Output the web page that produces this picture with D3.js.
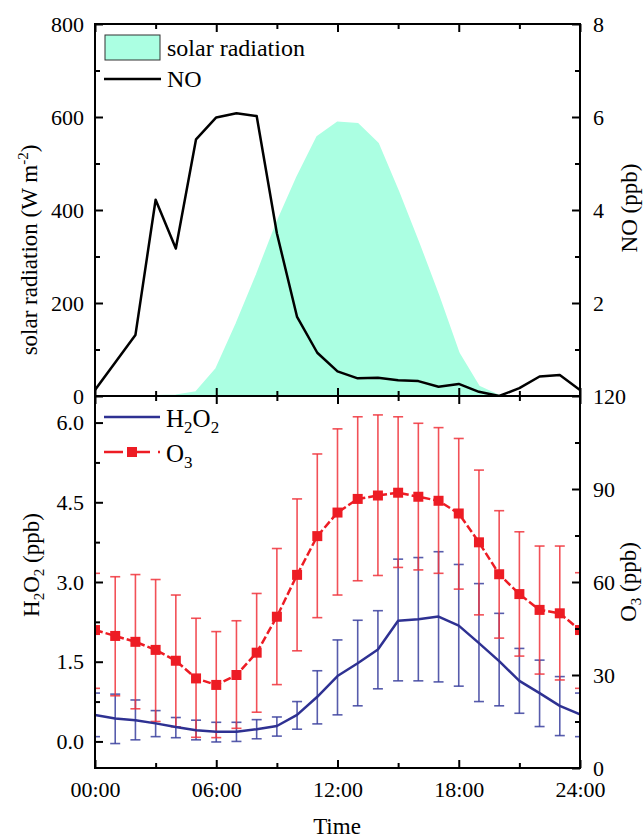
<!DOCTYPE html>
<html>
<head>
<meta charset="utf-8">
<script src="https://cdn.jsdelivr.net/npm/d3@7/dist/d3.min.js"></script>
<style>
body { margin: 0; background: #fff; }
svg text { font-family: "Liberation Serif", "DejaVu Serif", serif !important; fill: #000; }
</style>
</head>
<body>
<svg id="chart" width="644" height="838"></svg>
<script>
// hour of day
const hours = [0,1,2,3,4,5,6,7,8,9,10,11,12,13,14,15,16,17,18,19,20,21,22,23,24];

// top panel
const solar = [0,0,0,0,1,8,58,155,260,372,470,557,588,585,543,440,330,215,92,20,0,0,0,0,0];
const no = [0.13,0.72,1.31,4.22,3.17,5.52,5.99,6.08,6.02,3.5,1.7,0.93,0.53,0.38,0.39,0.34,0.32,0.2,0.26,0.09,0.0,0.17,0.42,0.45,0.13];

// bottom panel
const o3 = [44.5,42.6,40.7,38.1,34.6,28.9,26.8,30.0,37.2,48.8,62.3,74.8,82.4,86.8,87.9,88.8,87.5,86.2,82.1,72.8,62.5,56.1,51.0,49.9,44.5];
const o3Hi = [62.8,61.7,62.4,60.8,55.8,48.3,44.0,47.5,56.3,70.8,86.8,101.3,109.4,113.3,113.9,113.3,111.2,109.8,106.3,96.1,83.0,76.2,71.6,71.6,63.0];
const o3Lo = [25.7,23.3,19.1,15.0,13.3,9.9,9.8,12.8,18.0,26.9,37.8,48.5,55.8,60.4,62.1,64.7,63.9,62.8,57.7,49.4,41.9,36.1,30.3,28.4,25.7];
const h2o2 = [0.50,0.43,0.40,0.34,0.27,0.21,0.18,0.18,0.23,0.29,0.50,0.84,1.23,1.47,1.73,2.27,2.30,2.35,2.18,1.85,1.51,1.14,0.91,0.67,0.51];
const h2o2Hi = [0.91,0.89,0.78,0.58,0.45,0.40,0.36,0.36,0.41,0.46,0.75,1.33,1.91,2.28,2.46,3.43,3.46,3.57,3.33,2.97,2.41,1.75,1.53,1.22,0.91];
const h2o2Lo = [0.09,-0.04,0.03,0.09,0.07,0.03,-0.01,0.0,0.05,0.10,0.23,0.33,0.50,0.67,0.99,1.14,1.14,1.12,1.04,0.75,0.67,0.53,0.28,0.11,0.09];

// ticks
const timeTicks = [0,6,12,18,24];
const timeLabels = ["00:00","06:00","12:00","18:00","24:00"];
const timeMinor = [3,9,15,21];
const solarTicks = [0,200,400,600,800], solarMinor = [100,300,500,700];
const noTicks = [2,4,6,8], noMinor = [1,3,5,7];
const h2o2Ticks = [0,1.5,3,4.5,6], h2o2Minor = [0.75,2.25,3.75,5.25];
const o3Ticks = [0,30,60,90,120], o3Minor = [15,45,75,105];

const L = 95, R = 580, T1 = 24, B1 = 396, T2 = 396, B2 = 768;
const svg = d3.select("#chart");

const x = d3.scaleLinear().domain([0,24]).range([L,R]);
const ySolar = d3.scaleLinear().domain([0,800]).range([B1,T1]);
const yNO = d3.scaleLinear().domain([0,8]).range([B1,T1]);
const yH = d3.scaleLinear().domain([-0.5,6.5]).range([B2,T2]);
const yO3 = d3.scaleLinear().domain([0,120]).range([B2,T2]);

const teal = "#abffe2", red = "#ed1c24", blue = "#2e3192";

const defs = svg.append("defs");
defs.append("clipPath").attr("id","c1").append("rect").attr("x",L).attr("y",T1).attr("width",R-L).attr("height",B1-T1);
defs.append("clipPath").attr("id","c2").append("rect").attr("x",L).attr("y",T2).attr("width",R-L).attr("height",B2-T2);

// ---- top panel
const g1 = svg.append("g").attr("clip-path","url(#c1)");
g1.append("path")
  .attr("d", d3.area().x((d,i)=>x(hours[i])).y0(B1).y1(d=>ySolar(d))(solar))
  .attr("fill", teal).attr("stroke", teal).attr("stroke-width", 2);
g1.append("path")
  .attr("d", d3.line().x((d,i)=>x(hours[i])).y(d=>yNO(d))(no))
  .attr("fill","none").attr("stroke","#000").attr("stroke-width",2.5).attr("stroke-linejoin","round");

// ---- bottom panel
const g2 = svg.append("g").attr("clip-path","url(#c2)");
function errBars(g, vals, lo, hi, y, col) {
  const eb = g.append("g").attr("stroke", col).attr("stroke-width", 1.6).attr("stroke-opacity", 0.85);
  vals.forEach((v,i) => {
    const cx = x(hours[i]);
    eb.append("line").attr("x1",cx).attr("x2",cx).attr("y1",y(lo[i])).attr("y2",y(hi[i]));
    [lo[i],hi[i]].forEach(e => eb.append("line").attr("x1",cx-5).attr("x2",cx+5).attr("y1",y(e)).attr("y2",y(e)));
  });
}
errBars(g2, h2o2, h2o2Lo, h2o2Hi, yH, "#3a3f9e");
errBars(g2, o3, o3Lo, o3Hi, yO3, "#f0323b");
g2.append("path")
  .attr("d", d3.line().x((d,i)=>x(hours[i])).y(d=>yH(d))(h2o2))
  .attr("fill","none").attr("stroke",blue).attr("stroke-width",2.5).attr("stroke-linejoin","round");
g2.append("path")
  .attr("d", d3.line().x((d,i)=>x(hours[i])).y(d=>yO3(d))(o3))
  .attr("fill","none").attr("stroke",red).attr("stroke-width",2.5).attr("stroke-dasharray","8,3");
g2.selectAll("rect.m").data(o3).join("rect")
  .attr("x",(d,i)=>x(hours[i])-5).attr("y",d=>yO3(d)-5).attr("width",10).attr("height",10)
  .attr("fill",red);

// ---- axes
function ax(axisFn, scale, vals, size, pad, fmt, tx, ty) {
  const a = axisFn(scale).tickValues(vals).tickSize(-size).tickPadding(pad);
  a.tickFormat(fmt || "");
  const g = svg.append("g").attr("transform",`translate(${tx},${ty})`).call(a);
  g.attr("font-family", null).attr("font-size", null);
  g.select(".domain").remove();
  g.selectAll("line").attr("stroke","#000").attr("stroke-width",2);
  g.selectAll("text").style("font-size","22px");
  return g;
}
// top panel
ax(d3.axisLeft, ySolar, solarTicks, 8, 11, d=>d, L, 0);
ax(d3.axisLeft, ySolar, solarMinor, 5, 0, null, L, 0);
ax(d3.axisRight, yNO, noTicks, 8, 13, d=>d, R, 0);
ax(d3.axisRight, yNO, noMinor, 5, 0, null, R, 0);
ax(d3.axisTop, x, timeTicks, 8, 0, null, 0, T1);
ax(d3.axisTop, x, timeMinor, 5, 0, null, 0, T1);
ax(d3.axisBottom, x, timeTicks, 8, 0, null, 0, B1);
ax(d3.axisBottom, x, timeMinor, 5, 0, null, 0, B1);
// bottom panel
ax(d3.axisLeft, yH, h2o2Ticks, 8, 11, d3.format(".1f"), L, 0);
ax(d3.axisLeft, yH, h2o2Minor, 5, 0, null, L, 0);
ax(d3.axisRight, yO3, o3Ticks, 8, 13, d=>d, R, 0);
ax(d3.axisRight, yO3, o3Minor, 5, 0, null, R, 0);
ax(d3.axisBottom, x, timeTicks, 8, 13, (d,i)=>timeLabels[i], 0, B2);
ax(d3.axisBottom, x, timeMinor, 5, 0, null, 0, B2);
ax(d3.axisTop, x, timeTicks, 8, 0, null, 0, T2);
ax(d3.axisTop, x, timeMinor, 5, 0, null, 0, T2);

// frames
svg.append("rect").attr("x",L).attr("y",T1).attr("width",R-L).attr("height",B2-T1)
  .attr("fill","none").attr("stroke","#000").attr("stroke-width",2);
svg.append("line").attr("x1",L).attr("x2",R).attr("y1",B1).attr("y2",B1)
  .attr("stroke","#000").attr("stroke-width",2);

// ---- titles
function vtitle(xp, yp, parts) {
  const t = svg.append("text").attr("transform",`translate(${xp},${yp}) rotate(-90)`)
    .attr("text-anchor","middle").style("font-size","23px");
  parts.forEach(p => {
    const s = t.append("tspan").text(p[0]);
    if (p[1] === "sub") s.style("font-size","15px").attr("dy",5);
    else if (p[1] === "sup") s.style("font-size","15px").attr("dy",-9);
    else if (p[1] === "back") s.attr("dy", p[2]);
  });
}
vtitle(37, 250, [["solar radiation (W m"],["-2","sup"],[")","back",9]]);
vtitle(637, 208, [["NO (ppb)"]]);
vtitle(39, 565, [["H"],["2","sub"],["O","back",-5],["2","sub"],[" (ppb)","back",-5]]);
vtitle(636, 582, [["O"],["3","sub"],[" (ppb)","back",-5]]);
svg.append("text").attr("x",337).attr("y",834).attr("text-anchor","middle").style("font-size","23px").text("Time");

// ---- legends
svg.append("rect").attr("x",105).attr("y",35).attr("width",55).attr("height",25)
  .attr("fill",teal).attr("stroke","#333").attr("stroke-width",1);
svg.append("text").attr("x",167).attr("y",56).style("font-size","24px").text("solar radiation");
svg.append("line").attr("x1",104).attr("x2",161).attr("y1",79).attr("y2",79)
  .attr("stroke","#000").attr("stroke-width",2.5);
svg.append("text").attr("x",167).attr("y",87).style("font-size","24px").text("NO");

svg.append("line").attr("x1",104).attr("x2",160).attr("y1",417).attr("y2",417)
  .attr("stroke",blue).attr("stroke-width",2.5);
const lh = svg.append("text").attr("x",166).attr("y",427).style("font-size","25px");
lh.append("tspan").text("H");
lh.append("tspan").text("2").style("font-size","17px").attr("dy",6);
lh.append("tspan").text("O").attr("dy",-6);
lh.append("tspan").text("2").style("font-size","17px").attr("dy",6);
svg.append("line").attr("x1",104).attr("x2",160).attr("y1",452).attr("y2",452)
  .attr("stroke",red).attr("stroke-width",2.5).attr("stroke-dasharray","19,8");
svg.append("rect").attr("x",127).attr("y",447).attr("width",10).attr("height",10).attr("fill",red);
const lo = svg.append("text").attr("x",166).attr("y",462).style("font-size","25px");
lo.append("tspan").text("O");
lo.append("tspan").text("3").style("font-size","17px").attr("dy",6);
</script>
</body>
</html>
